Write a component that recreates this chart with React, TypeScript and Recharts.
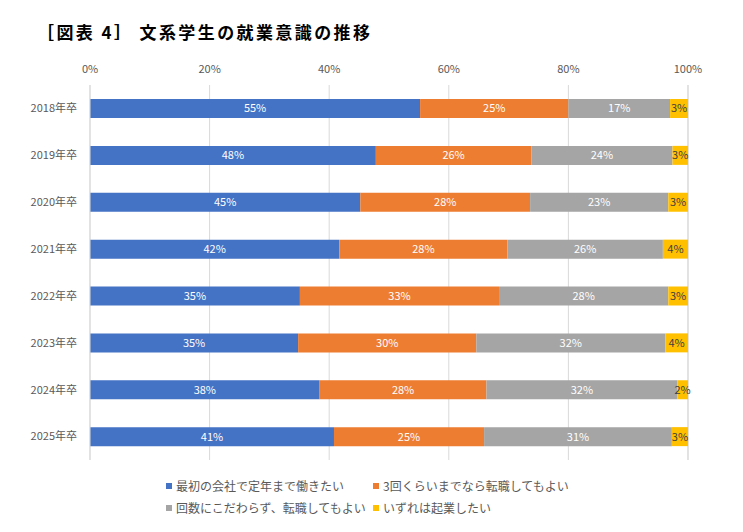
import React from "react";
import {
  BarChart,
  Bar,
  XAxis,
  YAxis,
  CartesianGrid,
  LabelList,
} from "recharts";

const categories = [
  "2018年卒",
  "2019年卒",
  "2020年卒",
  "2021年卒",
  "2022年卒",
  "2023年卒",
  "2024年卒",
  "2025年卒",
];

// share of students (%)
const stayUntilRetire = [55.2, 47.8, 45.2, 41.7, 35.1, 34.8, 38.4, 40.8];
const changeUpTo3 = [24.8, 26.0, 28.4, 28.1, 33.3, 29.8, 27.9, 25.1];
const changeAnyTimes = [17.0, 23.6, 23.1, 26.0, 28.3, 31.6, 31.9, 31.4];
const startBusiness = [3.0, 2.6, 3.3, 4.2, 3.3, 3.8, 1.8, 2.7];

const xTicks = [0, 20, 40, 60, 80, 100];

const seriesNames = [
  "最初の会社で定年まで働きたい",
  "3回くらいまでなら転職してもよい",
  "回数にこだわらず、転職してもよい",
  "いずれは起業したい",
];
const COLORS = ["#4472C4", "#ED7D31", "#A5A5A5", "#FFC000"];
const LABEL_COLORS = ["#ffffff", "#ffffff", "#ffffff", "#404040"];

const data = categories.map((name, i) => ({
  name,
  s0: stayUntilRetire[i],
  s1: changeUpTo3[i],
  s2: changeAnyTimes[i],
  s3: startBusiness[i],
}));

const FONT = '"Noto Sans CJK JP", "Noto Sans", sans-serif';
const fmt = (v: any) => `${Math.round(Number(v))}%`;

const App = () => {
  return (
    <div
      style={{
        position: "absolute",
        left: 0,
        top: 0,
        width: 743,
        height: 532,
        background: "#fff",
        fontFamily: FONT,
      }}
    >
      <div
        style={{
          position: "absolute",
          left: 37,
          top: 19,
          fontSize: 17,
          fontWeight: 600,
          letterSpacing: 2.4,
          color: "#000",
          whiteSpace: "nowrap",
        }}
      >
        ［図表 4］ 文系学生の就業意識の推移
      </div>

      <BarChart
        width={743}
        height={532}
        data={data}
        layout="vertical"
        margin={{ top: 55, right: 55, bottom: 72, left: 0 }}
        barSize={19}
      >
        <CartesianGrid horizontal={false} stroke="#d9d9d9" />
        <XAxis
          type="number"
          orientation="top"
          domain={[0, 100]}
          ticks={xTicks}
          tickFormatter={(v) => `${v}%`}
          axisLine={false}
          tickLine={false}
          tickSize={6}
          tickMargin={6}
          height={30}
          tick={{ fontSize: 11, fill: "#595959", fontFamily: FONT }}
        />
        <YAxis
          type="category"
          dataKey="name"
          width={90}
          axisLine={{ stroke: "#d9d9d9" }}
          tickLine={false}
          tickSize={6}
          tickMargin={7}
          tick={{ fontSize: 11, fill: "#595959", fontFamily: FONT }}
        />
        {["s0", "s1", "s2", "s3"].map((key, i) => (
          <Bar
            key={key}
            dataKey={key}
            stackId="a"
            fill={COLORS[i]}
            isAnimationActive={false}
          >
            <LabelList
              dataKey={key}
              position="center"
              formatter={fmt}
              fill={LABEL_COLORS[i]}
              fontSize={11}
              fontFamily={FONT}
            />
          </Bar>
        ))}
      </BarChart>

      {seriesNames.map((name, i) => (
        <div
          key={name}
          style={{
            position: "absolute",
            left: i % 2 === 0 ? 166 : 373,
            top: i < 2 ? 477 : 499,
            display: "flex",
            alignItems: "center",
            fontSize: 12,
            color: "#595959",
            whiteSpace: "nowrap",
          }}
        >
          <span
            style={{
              display: "inline-block",
              width: 6,
              height: 6,
              background: COLORS[i],
              marginRight: 4,
            }}
          />
          {name}
        </div>
      ))}
    </div>
  );
};

export default App;
